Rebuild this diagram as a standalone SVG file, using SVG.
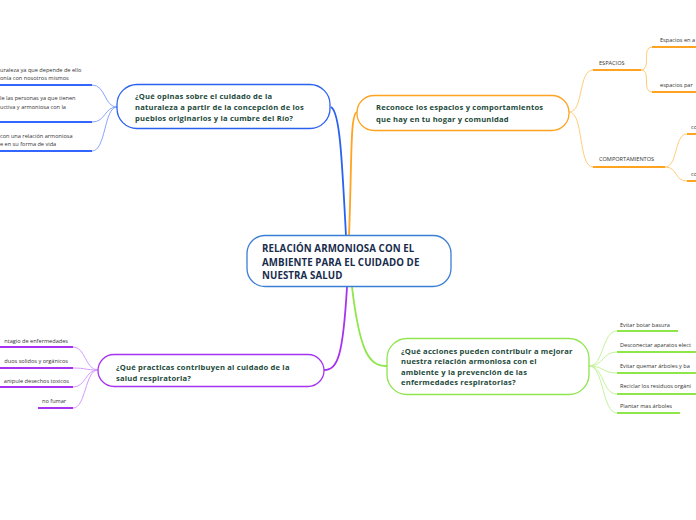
<svg xmlns="http://www.w3.org/2000/svg" width="696" height="520" viewBox="0 0 696 520">
<style>
text{font-family:"Open Sans","Noto Sans","Liberation Sans",sans-serif}
.nt{font-size:7.6px;font-weight:bold;fill:#1c4a3a;letter-spacing:0.2px}
.ct{font-size:9.7px;font-weight:bold;fill:#182c4c;letter-spacing:0.1px}
.st{font-size:5.6px;fill:#333}
.node{fill:#fff;stroke-width:1.3}
.c{fill:none}
</style>
<rect width="696" height="520" fill="#fff"/>
<g id="connectors">
  <path class="c" d="M346,236 C342,160 340,112 331,107" stroke="#2a62f0" stroke-width="1.8"/>
  <path class="c" d="M349,236 C352,160 350,114 357,112" stroke="#ffa320" stroke-width="1.8"/>
  <path class="c" d="M347,287 C343,355 338,370 324,370" stroke="#a533f0" stroke-width="1.8"/>
  <path class="c" d="M352,287 C360,355 370,366 387,366" stroke="#8ee64a" stroke-width="1.8"/>
  <g stroke="#8aa6ff" stroke-width="1">
    <path class="c" d="M117,107 C104,107 106,85 92,85"/>
    <path class="c" d="M117,107 C104,107 106,122 92,122"/>
    <path class="c" d="M117,107 C104,107 106,151 92,151"/>
  </g>
  <g stroke="#3366ff" stroke-width="2">
    <path d="M0,85 H92"/><path d="M0,122 H92"/><path d="M0,151 H92"/>
  </g>
  <g stroke="#ffcd7a" stroke-width="1">
    <path class="c" d="M569,112 C584,112 578,70 593,70"/>
    <path class="c" d="M569,112 C584,112 578,167 593,167"/>
    <path class="c" d="M641,70 C652,70 641,47 652,47"/>
    <path class="c" d="M641,70 C652,70 641,92 652,92"/>
    <path class="c" d="M665,167 C678,167 674,134 687,134"/>
    <path class="c" d="M665,167 C678,167 674,181 687,181"/>
  </g>
  <g stroke="#ffa320" stroke-width="2">
    <path d="M593,70 H641"/><path d="M593,167 H665"/>
    <path d="M652,47 H696"/><path d="M652,92 H696"/>
    <path d="M687,134 H696"/><path d="M687,181 H696"/>
  </g>
  <g stroke="#c4f29c" stroke-width="1">
    <path class="c" d="M589,366 C604,366 602,331 617,331"/>
    <path class="c" d="M589,366 C604,366 602,352 617,352"/>
    <path class="c" d="M589,366 C604,366 602,373 617,373"/>
    <path class="c" d="M589,366 C604,366 602,394 617,394"/>
    <path class="c" d="M589,366 C604,366 602,413 617,413"/>
  </g>
  <g stroke="#8ee64a" stroke-width="2">
    <path d="M617,331 H678"/><path d="M617,352 H696"/><path d="M617,373 H696"/>
    <path d="M617,394 H696"/><path d="M617,413 H680"/>
  </g>
  <g stroke="#d49cff" stroke-width="1">
    <path class="c" d="M98,370 C85,370 86,347 73,347"/>
    <path class="c" d="M98,370 C85,370 86,368 73,368"/>
    <path class="c" d="M98,370 C85,370 86,387 73,387"/>
    <path class="c" d="M98,370 C85,370 86,408 73,408"/>
  </g>
  <g stroke="#a533f0" stroke-width="2">
    <path d="M0,347 H73"/><path d="M0,368 H73"/><path d="M0,387 H73"/><path d="M38,408 H73"/>
  </g>
</g>

<g id="center">
  <rect class="node" x="247" y="235.5" width="204" height="51" rx="18" stroke="#3b7fd4"/>
  <text class="ct" x="262" y="252">RELACIÓN ARMONIOSA CON EL</text>
  <text class="ct" x="262" y="265.5">AMBIENTE PARA EL CUIDADO DE</text>
  <text class="ct" x="262" y="279">NUESTRA SALUD</text>
</g>

<g id="blue">
  <rect class="node" x="117" y="84.5" width="213" height="44" rx="20" stroke="#2a62f0"/>
  <text class="nt" x="135" y="99">¿Qué opinas sobre el cuidado de la</text>
  <text class="nt" x="135" y="110">naturaleza a partir de la concepción de los</text>
  <text class="nt" x="135" y="121">pueblos originarios y la cumbre del Río?</text>
</g>
<g id="blue1"><text class="st" x="0" y="72">uraleza ya que depende de ello</text><text class="st" x="0" y="80">onía con nosotros mismos</text></g>
<g id="blue2"><text class="st" x="0" y="100">le las personas ya que tienen</text><text class="st" x="0" y="109">uctiva y armoniosa con la</text></g>
<g id="blue3"><text class="st" x="0" y="138">con una relación armoniosa</text><text class="st" x="0" y="146">e en su forma de vida</text></g>

<g id="orange">
  <rect class="node" x="357" y="95.5" width="212" height="35" rx="17" stroke="#ffa320"/>
  <text class="nt" x="376" y="110">Reconoce los espacios y comportamientos</text>
  <text class="nt" x="376" y="121.5">que hay en tu hogar y comunidad</text>
</g>
<g id="espacios"><text class="st" x="599" y="65">ESPACIOS</text></g>
<g id="esp1"><text class="st" x="660" y="42">Espacios en a</text></g>
<g id="esp2"><text class="st" x="660" y="87">espacios par</text></g>
<g id="comport"><text class="st" x="599" y="161">COMPORTAMIENTOS</text></g>
<g id="com1"><text class="st" x="691" y="129">co</text></g>
<g id="com2"><text class="st" x="691" y="176">co</text></g>

<g id="green">
  <rect class="node" x="387" y="338.5" width="202" height="56" rx="20" stroke="#8ee64a"/>
  <text class="nt" x="401" y="353.5">¿Qué acciones pueden contribuir a mejorar</text>
  <text class="nt" x="401" y="364">nuestra relación armoniosa con el</text>
  <text class="nt" x="401" y="374.5">ambiente y la prevención de las</text>
  <text class="nt" x="401" y="385">enfermedades respiratorias?</text>
</g>
<g id="g1"><text class="st" x="620" y="327">Evitar botar basura</text></g>
<g id="g2"><text class="st" x="620" y="347">Desconectar aparatos elect</text></g>
<g id="g3"><text class="st" x="620" y="368">Evitar quemar árboles y ba</text></g>
<g id="g4"><text class="st" x="620" y="388">Reciclar los residuos orgáni</text></g>
<g id="g5"><text class="st" x="620" y="408">Plantar mas árboles</text></g>

<g id="purple">
  <rect class="node" x="98" y="354.5" width="226" height="32" rx="16" stroke="#a533f0"/>
  <text class="nt" x="116" y="369.5">¿Qué practicas contribuyen al cuidado de la</text>
  <text class="nt" x="116" y="380.5">salud respiratoria?</text>
</g>
<g id="p1"><text class="st" x="68" y="343" text-anchor="end">ntagio de enfermedades</text></g>
<g id="p2"><text class="st" x="68" y="363" text-anchor="end">duos solidos y orgánicos</text></g>
<g id="p3"><text class="st" x="69" y="383" text-anchor="end">anipule desechos toxicos</text></g>
<g id="p4"><text class="st" x="42" y="403">no fumar</text></g>
</svg>
